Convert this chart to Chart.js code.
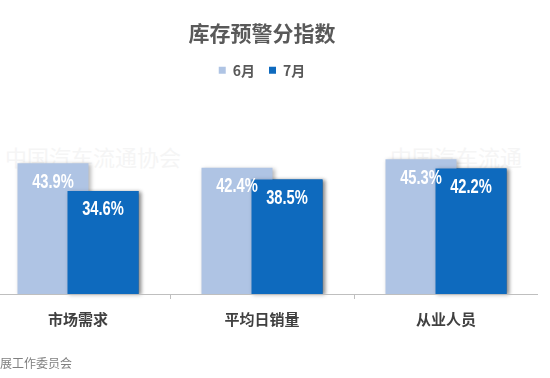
<!DOCTYPE html>
<html><head><meta charset="utf-8">
<script src="https://cdn.jsdelivr.net/npm/chart.js@4/dist/chart.umd.min.js"></script>
<style>
html,body{margin:0;padding:0;background:#fff;width:550px;height:378px;overflow:hidden;position:relative;font-family:"Noto Sans CJK SC",sans-serif;}
#wrap{position:absolute;left:-14px;top:0;width:552px;height:378px;}
#foot{position:absolute;left:0;top:354px;font-size:12px;color:#808080;font-family:"Noto Sans CJK SC",sans-serif;}
.wm{position:absolute;font-size:22px;color:#f5f5f5;font-family:"Noto Sans CJK SC",serif;white-space:nowrap;}
</style></head>
<body>
<div class="wm" style="left:5px;top:140px;">中国汽车流通协会</div>
<div class="wm" style="left:390px;top:140px;">中国汽车流通</div>
<div id="wrap"><canvas id="c"></canvas></div>
<div id="foot">展工作委员会</div>
<script>
const categories = ['市场需求', '平均日销量', '从业人员'];
const seriesNames = ['6月', '7月'];
const june = [43.9, 42.4, 45.3];
const july = [34.6, 38.5, 42.2];

const CJK = '"Noto Sans CJK SC", "Noto Sans", sans-serif';

const shadowAndLabels = {
  id: 'shadowAndLabels',
  beforeDatasetsDraw(chart) {
    const ctx = chart.ctx;
    ctx.save();
    ctx.shadowColor = 'rgba(0,0,0,0.28)';
    ctx.shadowBlur = 4;
    ctx.shadowOffsetX = 2;
    ctx.shadowOffsetY = 1;
  },
  afterDatasetsDraw(chart) {
    const ctx = chart.ctx;
    // redraw the second series so it sits over the first one
    chart.getDatasetMeta(1).controller.draw();
    ctx.restore();
    ctx.save();
    ctx.fillStyle = '#ffffff';
    ctx.textAlign = 'center';
    ctx.textBaseline = 'top';
    ctx.font = 'bold 21px "Liberation Sans", Arial, sans-serif';
    chart.data.datasets.forEach((ds, di) => {
      const meta = chart.getDatasetMeta(di);
      meta.data.forEach((bar, i) => {
        ctx.save();
        ctx.translate(bar.x, bar.y + 8);
        ctx.scale(0.7, 1);
        ctx.fillText(ds.data[i].toFixed(1) + '%', 0, 0);
        ctx.restore();
      });
    });
    ctx.restore();
  },
  afterDraw(chart) {
    const ctx = chart.ctx;
    const y = chart.scales.y.getPixelForValue(0);
    ctx.save();
    ctx.strokeStyle = '#bfbfbf';
    ctx.lineWidth = 1;
    ctx.beginPath();
    ctx.moveTo(0, Math.round(y) + 0.5);
    ctx.lineTo(chart.width, Math.round(y) + 0.5);
    ctx.stroke();
    ctx.restore();
  }
};

new Chart(document.getElementById('c'), {
  type: 'bar',
  data: {
    labels: categories,
    datasets: [
      { label: seriesNames[0], data: june, backgroundColor: '#afc4e4',
        categoryPercentage: 0.5435, barPercentage: 1.42 },
      { label: seriesNames[1], data: july, backgroundColor: '#0e6abe',
        categoryPercentage: 0.5435, barPercentage: 1.42 }
    ]
  },
  options: {
    responsive: true,
    maintainAspectRatio: false,
    animation: false,
    layout: { padding: { left: 0, right: 0, top: 0, bottom: 39 } },
    plugins: {
      title: {
        display: true,
        text: '库存预警分指数',
        color: '#595959',
        font: { family: CJK, size: 21, weight: 'bold' },
        padding: { top: 20, bottom: 4 }
      },
      legend: {
        display: true,
        labels: {
          boxWidth: 7, boxHeight: 7, padding: 14,
          color: '#595959',
          font: { family: CJK, size: 14, weight: 'bold' }
        }
      },
      tooltip: { enabled: false }
    },
    scales: {
      x: {
        offset: true,
        grid: { display: true, drawOnChartArea: false, drawTicks: true, tickLength: 5, color: '#bfbfbf', offset: true },
        border: { display: true, color: '#bfbfbf' },
        ticks: { color: '#404040', padding: 11, font: { family: CJK, size: 15, weight: 'bold' } }
      },
      y: {
        display: false,
        min: 0,
        max: 69.5
      }
    }
  },
  plugins: [shadowAndLabels]
});
</script>
</body></html>
